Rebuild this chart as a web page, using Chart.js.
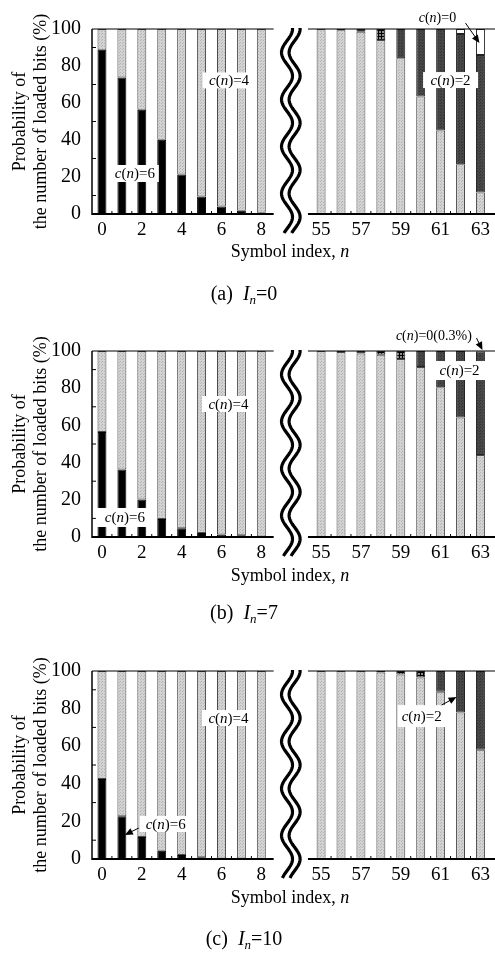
<!DOCTYPE html>
<html>
<head>
<meta charset="utf-8">
<script src="https://cdn.jsdelivr.net/npm/chart.js@4.4.1/dist/chart.umd.min.js"></script>
<style>
  body { margin: 0; background: #fff; }
  #page { position: relative; width: 495px; height: 963px; overflow: hidden; font-family: "Liberation Serif", serif; color: #000; }
  #page canvas { position: absolute; left: 0; }
  .xt { position: absolute; left: 190px; width: 200px; text-align: center; font-size: 18px; line-height: 20px; }
  .cap { position: absolute; left: 144px; width: 200px; text-align: center; font-size: 20px; line-height: 22px; }
  .cap sub { font-size: 13px; vertical-align: -4px; }
</style>
</head>
<body>
<div id="page"></div>
<script>
// symbol indices shown on each side of the axis break
const nLeft = ['0', '1', '2', '3', '4', '5', '6', '7', '8'];
const nRight = ['55', '56', '57', '58', '59', '60', '61', '62', '63'];
const tickShown = ['0', '2', '4', '6', '8', '55', '57', '59', '61', '63'];

// (a) In = 0
const aC6Left = [88.8, 73.8, 56.3, 40.1, 21.3, 9.4, 4.0, 1.8, 0.7];
const aC4Left = [11.2, 26.2, 43.7, 59.9, 78.7, 90.6, 96.0, 98.2, 99.3];
const aC4Right = [100, 99.3, 98.5, 94.0, 84.2, 63.5, 45.1, 26.9, 11.6];
const aGridRight = [0, 0, 1.5, 6.0, 0, 0, 0, 0, 0];
const aC2Right = [0, 0.7, 0, 0, 15.8, 36.5, 54.9, 70.4, 74.3];
const aC0Right = [0, 0, 0, 0, 0, 0, 0, 2.7, 14.1];

// (b) In = 7
const bC6Left = [56.4, 36.3, 20.1, 9.7, 4.7, 2.2, 1.4, 0.9, 0.3];
const bC4Left = [43.6, 63.7, 79.9, 90.3, 95.3, 97.8, 98.6, 99.1, 99.7];
const bC4Right = [100, 99.5, 98.7, 98.0, 95.7, 91.4, 80.5, 64.3, 44.1];
const bGridRight = [0, 0, 1.3, 2.0, 4.3, 0, 0, 0, 0];
const bC2Right = [0, 0.5, 0, 0, 0, 8.6, 19.5, 35.7, 55.6];
const bC0Right = [0, 0, 0, 0, 0, 0, 0, 0, 0.3];

// (c) In = 10
const cC6Left = [42.5, 22.7, 11.7, 4.4, 2.1, 0.9, 0.3, 0.2, 0.1];
const cC4Left = [57.5, 77.3, 88.3, 95.6, 97.9, 99.1, 99.7, 99.8, 99.9];
const cC4Right = [100, 100, 100, 99.2, 98.2, 96.5, 89.0, 77.9, 58.1];
const cGridRight = [0, 0, 0, 0, 1.8, 3.5, 0, 0, 0];
const cC2Right = [0, 0, 0, 0.8, 0, 0, 11.0, 22.1, 41.9];
const cC0Right = [0, 0, 0, 0, 0, 0, 0, 0, 0];

const panels = [
  { tag: '(a)', inVal: '0', top: 0, plotH: 185, xTitleY: 251, capY: 293,
    c6: aC6Left, c4: aC4Left, c4r: aC4Right, grid: aGridRight, c2: aC2Right, c0: aC0Right,
    notes: [
      { v: '4', x: 6.38, y: 72.2, w: 53, h: 16 },
      { v: '6', x: 1.65, y: 21.9, w: 48, h: 17 },
      { v: '2', x: 17.5, y: 72.4, w: 55, h: 16 },
      { v: '0', x: 16.84, y: 106.5, size: 14, box: false, arrow: [18.25, 103.2, 18.95, 92.4] }
    ] },
  { tag: '(b)', inVal: '7', top: 322, plotH: 186, xTitleY: 575, capY: 612,
    c6: bC6Left, c4: bC4Left, c4r: bC4Right, grid: bGridRight, c2: bC2Right, c0: bC0Right,
    notes: [
      { v: '4', x: 6.35, y: 71.5, w: 53, h: 16 },
      { v: '6', x: 1.15, y: 10.5, w: 58, h: 19 },
      { v: '2', x: 17.95, y: 89.5, w: 58, h: 19 },
      { v: '0(0.3%)', x: 16.66, y: 108.6, size: 14, box: false, arrow: [18.8, 107, 19.1, 100.5] }
    ] },
  { tag: '(c)', inVal: '10', top: 642, plotH: 188, xTitleY: 897, capY: 938,
    c6: cC6Left, c4: cC4Left, c4r: cC4Right, grid: cGridRight, c2: cC2Right, c0: cC0Right,
    notes: [
      { v: '4', x: 6.35, y: 75, w: 53, h: 16 },
      { v: '6', x: 3.2, y: 18.6, w: 52, h: 16, arrow: [1.85, 16.5, 1.15, 12.8] },
      { v: '2', x: 16.05, y: 76, w: 48, h: 22, arrow: [17.05, 81.9, 17.8, 86.2] }
    ] }
];

const labels = [...nLeft, ' ', '  ', ...nRight];
const GAP = [null, null];
const NONE = nLeft.map(() => null);
const PAD_TOP = 29;
const BELOW = 30;

function makePattern(bg, fg, kind) {
  const c = document.createElement('canvas');
  c.width = 3; c.height = 3;
  const g = c.getContext('2d');
  g.fillStyle = bg;
  g.fillRect(0, 0, 3, 3);
  g.fillStyle = fg;
  if (kind === 'grid') {
    g.fillRect(0, 0, 3, 1);
    g.fillRect(0, 0, 1, 3);
  } else {
    g.fillRect(0, 0, 1, 1);
    g.fillRect(2, 1, 1, 1);
  }
  return g.createPattern(c, 'repeat');
}
const lightFill = makePattern('#d2d2d2', '#b4b4b4', 'dots');
const darkFill = makePattern('#474747', '#333333', 'dots');
const gridFill = makePattern('#8a8a8a', '#000000', 'grid');

function seg(ctx, x1, y1, x2, y2, w) {
  ctx.lineWidth = w;
  ctx.beginPath();
  ctx.moveTo(x1, y1);
  ctx.lineTo(x2, y2);
  ctx.stroke();
}

function arrow(ctx, x1, y1, x2, y2) {
  const a = Math.atan2(y2 - y1, x2 - x1);
  seg(ctx, x1, y1, x2 - 6 * Math.cos(a), y2 - 6 * Math.sin(a), 1);
  ctx.beginPath();
  ctx.moveTo(x2, y2);
  ctx.lineTo(x2 - 8 * Math.cos(a) + 3.5 * Math.sin(a), y2 - 8 * Math.sin(a) - 3.5 * Math.cos(a));
  ctx.lineTo(x2 - 8 * Math.cos(a) - 3.5 * Math.sin(a), y2 - 8 * Math.sin(a) + 3.5 * Math.cos(a));
  ctx.closePath();
  ctx.fill();
}

function makeDecor(p) {
  return {
    id: 'decor',
    afterDatasetsDraw(chart) {
      const { ctx, chartArea: ca, scales: { x, y } } = chart;
      const step = x.getPixelForValue(1) - x.getPixelForValue(0);
      const leftEnd = x.getPixelForValue(8) + 0.62 * step;
      const rightStart = x.getPixelForValue(11) - 0.66 * step;
      ctx.save();
      ctx.strokeStyle = '#000';
      ctx.fillStyle = '#000';

      // frame, broken between the two index ranges
      seg(ctx, ca.left, ca.top, ca.left, ca.bottom + 1, 1.5);
      seg(ctx, ca.left, ca.bottom, leftEnd, ca.bottom, 2);
      seg(ctx, rightStart, ca.bottom, chart.width, ca.bottom, 2);
      seg(ctx, ca.left, ca.top, leftEnd, ca.top, 1);
      seg(ctx, rightStart, ca.top, chart.width, ca.top, 1);

      // minor ticks
      for (let v = 10; v < 100; v += 20) {
        const yy = y.getPixelForValue(v);
        seg(ctx, ca.left, yy, ca.left + 4, yy, 1);
      }
      for (let i = 0; i < labels.length - 1; i++) {
        if (i >= 8 && i <= 10) continue;
        const xx = x.getPixelForValue(i + 0.5);
        seg(ctx, xx, ca.bottom, xx, ca.bottom - 3, 1);
      }

      // wavy break
      const cx = (leftEnd + rightStart) / 2;
      ctx.lineWidth = 3.2;
      for (const off of [-3.8, 3.8]) {
        ctx.beginPath();
        for (let yy = ca.top - 1; yy <= ca.bottom + 19; yy += 1) {
          const xx = cx + off + 5.5 * Math.sin((yy - ca.top) / 47 * 2 * Math.PI + Math.PI / 2);
          if (yy === ca.top - 1) ctx.moveTo(xx, yy); else ctx.lineTo(xx, yy);
        }
        ctx.stroke();
      }

      // c(n) labels
      for (const n of p.notes) {
        const fs = n.size || 15;
        const parts = [['c', true], ['(', false], ['n', true], [')=' + n.v, false]];
        const fontOf = it => (it ? 'italic ' : '') + fs + 'px "Liberation Serif"';
        let tw = 0;
        for (const [t, it] of parts) { ctx.font = fontOf(it); tw += ctx.measureText(t).width; }
        const px = x.getPixelForValue(n.x);
        const py = y.getPixelForValue(n.y);
        if (n.box !== false) {
          ctx.fillStyle = '#fff';
          ctx.fillRect(px - n.w / 2, py - n.h / 2, n.w, n.h);
        }
        ctx.fillStyle = '#000';
        ctx.textBaseline = 'middle';
        ctx.textAlign = 'left';
        let tx = px - tw / 2;
        for (const [t, it] of parts) {
          ctx.font = fontOf(it);
          ctx.fillText(t, tx, py + 1);
          tx += ctx.measureText(t).width;
        }
        if (n.arrow) {
          const [x1, y1, x2, y2] = n.arrow;
          arrow(ctx, x.getPixelForValue(x1), y.getPixelForValue(y1), x.getPixelForValue(x2), y.getPixelForValue(y2));
        }
      }
      ctx.restore();
    }
  };
}

function datasetsFor(p) {
  return [
    { label: 'c(n)=6', data: [...p.c6, ...GAP, ...NONE], backgroundColor: '#000', borderColor: '#000' },
    { label: 'c(n)=4', data: [...p.c4, ...GAP, ...p.c4r], backgroundColor: lightFill, borderColor: '#4a4a4a' },
    { label: 'grid', data: [...NONE, ...GAP, ...p.grid], backgroundColor: gridFill, borderColor: '#222' },
    { label: 'c(n)=2', data: [...NONE, ...GAP, ...p.c2], backgroundColor: darkFill, borderColor: '#222' },
    { label: 'c(n)=0', data: [...NONE, ...GAP, ...p.c0], backgroundColor: '#fff', borderColor: '#222' }
  ].map(d => Object.assign(d, { borderWidth: 1, borderSkipped: false, barPercentage: 0.45, categoryPercentage: 1 }));
}

const page = document.getElementById('page');
const serif = '"Liberation Serif", "Times New Roman", serif';

panels.forEach(p => {
  const H = PAD_TOP + p.plotH + BELOW;
  const cv = document.createElement('canvas');
  cv.width = 495;
  cv.height = H;
  cv.style.top = p.top + 'px';
  page.appendChild(cv);

  const xt = document.createElement('div');
  xt.className = 'xt';
  xt.style.top = (p.xTitleY - 10) + 'px';
  xt.innerHTML = 'Symbol index, <i>n</i>';
  page.appendChild(xt);

  const cap = document.createElement('div');
  cap.className = 'cap';
  cap.style.top = (p.capY - 11) + 'px';
  cap.innerHTML = p.tag + '&nbsp; <i>I</i><sub><i>n</i></sub>=' + p.inVal;
  page.appendChild(cap);

  new Chart(cv.getContext('2d'), {
    type: 'bar',
    data: { labels: labels, datasets: datasetsFor(p) },
    options: {
      responsive: false,
      animation: false,
      layout: { padding: { top: PAD_TOP, right: 2, left: 0, bottom: 0 } },
      plugins: { legend: { display: false }, tooltip: { enabled: false } },
      scales: {
        x: {
          stacked: true,
          grid: { display: false, drawTicks: false },
          border: { display: false },
          ticks: {
            autoSkip: false, maxRotation: 0, padding: 5, color: '#000',
            font: { family: serif, size: 19 },
            callback: function (v) {
              const l = this.getLabelForValue(v);
              return tickShown.includes(l) ? l : '';
            }
          },
          afterFit: s => { s.height = BELOW; }
        },
        y: {
          stacked: true,
          min: 0, max: 100,
          grid: { display: false },
          border: { display: false },
          ticks: { stepSize: 20, padding: 3, color: '#000', font: { family: serif, size: 20 } },
          title: {
            display: true,
            text: ['Probability of', 'the number of loaded bits (%)'],
            color: '#000',
            font: { family: serif, size: 18 },
            padding: { top: 9, bottom: 0 }
          },
          afterFit: s => { s.width = 92; }
        }
      }
    },
    plugins: [makeDecor(p)]
  });
});
</script>
</body>
</html>
